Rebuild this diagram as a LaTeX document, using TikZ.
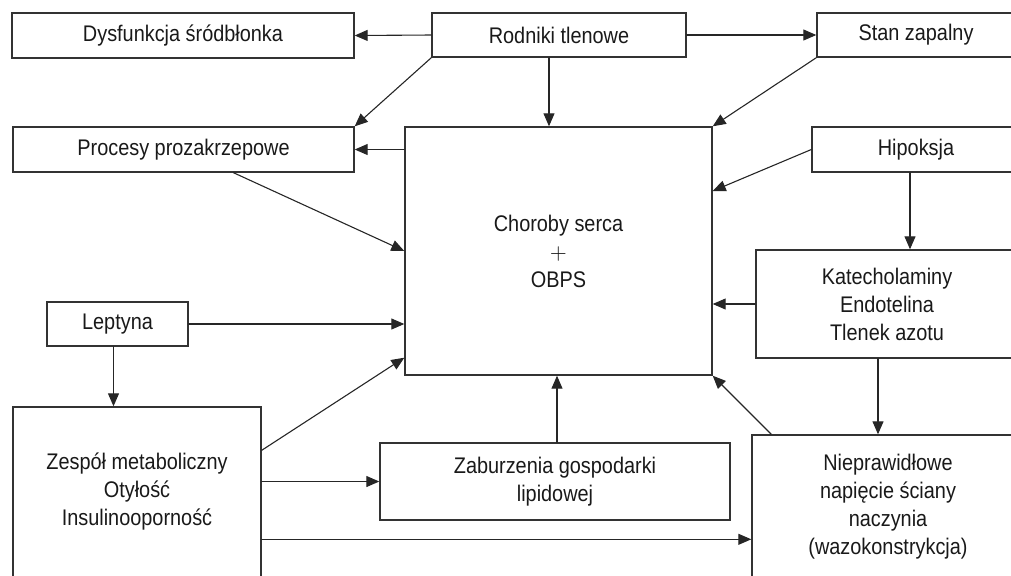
\documentclass[tikz,border=0pt]{standalone}
\usepackage{fontspec}
\setmainfont{Liberation Sans}[FakeStretch=0.88]
\usetikzlibrary{arrows.meta}

\begin{document}
\begin{tikzpicture}[>={Triangle[length=6.5pt,width=5.5pt]},x=0.5pt,y=-0.5pt,
  font=\fontsize{11.3}{14}\selectfont,line cap=round,
  box/.style={draw=black!80,line width=0.7pt,align=center,inner sep=0pt,text=black!90},
  link/.style={->,draw=black!85,line width=0.55pt}]
\useasboundingbox (0,0) rectangle (1011,575);
\clip (0,0) rectangle (1011,575);
% top row
\node[box,minimum width=171pt,minimum height=22.5pt] (dys) at (183,35.5) {Dysfunkcja śródbłonka};
\node[box,minimum width=127pt,minimum height=22pt] (rod) at (559,35) {Rodniki tlenowe};
\node[box,minimum width=99pt,minimum height=22pt] (stan) at (916,35) {Stan zapalny};
% middle
\node[box,minimum width=170.5pt,minimum height=22.5pt] (proc) at (183.5,149.5) {Procesy prozakrzepowe};
\node[box,minimum width=153.5pt,minimum height=124pt] (chor) at (558.5,251) {Choroby serca\\$+$\\OBPS};
\node[box,minimum width=104pt,minimum height=22.5pt] (hip) at (916,149.5) {Hipoksja};
\node[box,minimum width=131pt,minimum height=54pt] (kat) at (887,304) {Katecholaminy\\Endotelina\\Tlenek azotu};
\node[box,minimum width=70.5pt,minimum height=22pt] (lep) at (117.5,324) {Leptyna};
% bottom row
\node[box,minimum width=124pt,minimum height=85pt] (zes) at (137,492) {Zespół metaboliczny\\Otyłość\\Insulinooporność};
\node[box,minimum width=175pt,minimum height=38.5pt] (zab) at (555,481.5) {Zaburzenia gospodarki\\lipidowej};
\node[box,minimum width=136pt,minimum height=71.5pt] (nie) at (888,506.5) {Nieprawidłowe\\napięcie ściany\\naczynia\\(wazokonstrykcja)};
% arrows
\draw[link] (rod.west) -- (dys.east);
\draw[link] (rod.east) -- (stan.west);
\draw[link] (rod.south west) -- (proc.north east);
\coordinate (r1) at ([xshift=-5pt]rod.south);
\draw[link] (r1) -- (r1 |- chor.north);
\draw[link] (stan.south west) -- (chor.north east);
\draw[link] (chor.west |- proc.east) -- (proc.east);
\coordinate (p1) at ([xshift=25pt]proc.south);
\draw[link] (p1) -- (chor.west);
\coordinate (c1) at ([yshift=30pt]chor.east);
\draw[link] (hip.west) -- (c1);
\coordinate (h1) at ([xshift=-3pt]hip.south);
\draw[link] (h1) -- (h1 |- kat.north);
\draw[link] (kat.west) -- (kat.west -| chor.east);
\coordinate (k1) at ([xshift=-4.5pt]kat.south);
\draw[link] (k1) -- (k1 |- nie.north);
\draw[link] (lep.east) -- (lep.east -| chor.west);
\coordinate (l1) at ([xshift=-2pt]lep.south);
\draw[link] (l1) -- (l1 |- zes.north);
\coordinate (z1) at ([yshift=-22pt]zes.north east);
\coordinate (c2) at ([yshift=9pt]chor.south west);
\draw[link] (z1) -- (c2);
\draw[link] (zes.east |- zab.west) -- (zab.west);
\coordinate (z3) at ([yshift=-66.5pt]zes.north east);
\draw[link] (z3) -- (z3 -| nie.west);
\coordinate (a1) at ([xshift=1pt]zab.north);
\draw[link] (a1) -- (a1 |- chor.south);
\coordinate (n1) at ([xshift=10pt]nie.north west);
\draw[link] (n1) -- (chor.south east);
\end{tikzpicture}
\end{document}
